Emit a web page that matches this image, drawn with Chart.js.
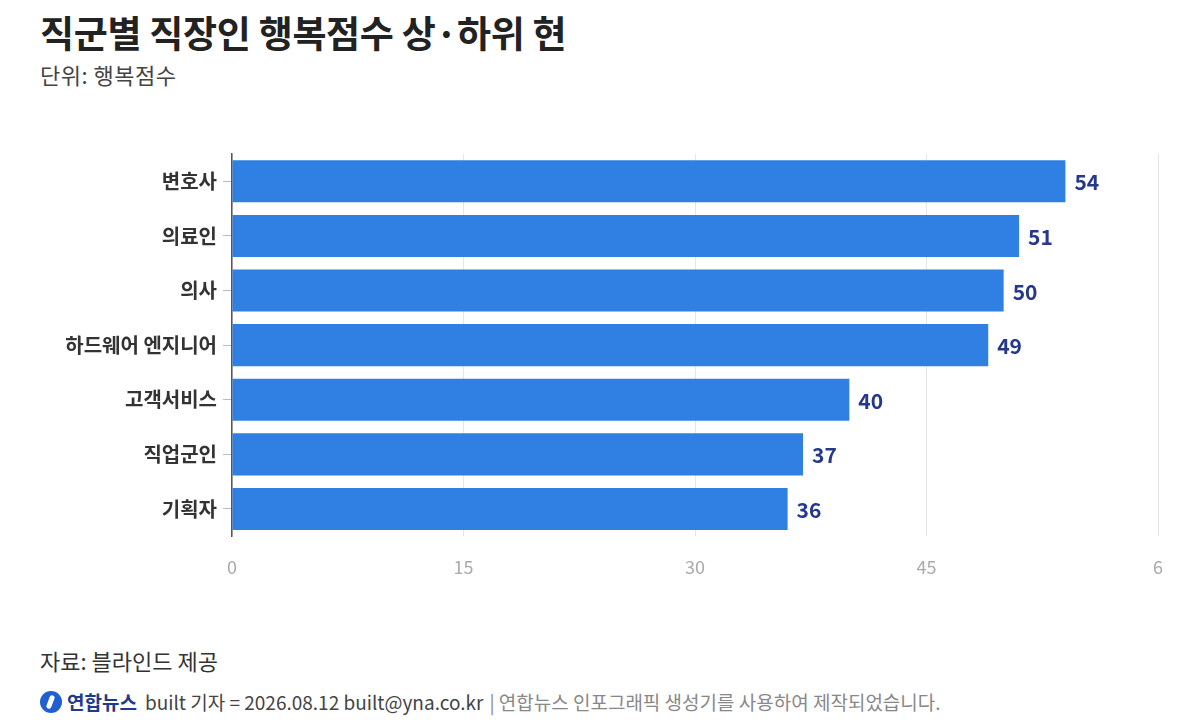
<!DOCTYPE html>
<html>
<head>
<meta charset="utf-8">
<script src="https://cdn.jsdelivr.net/npm/chart.js@4"></script>
<style>
  html, body { margin: 0; padding: 0; background: #fff; }
  body { width: 1200px; height: 720px; position: relative; overflow: hidden;
         font-family: "Noto Sans CJK KR", "Noto Sans", sans-serif; }
  #title { position: absolute; left: 40px; top: 5px; font-size: 37px; font-weight: 700; color: #222; letter-spacing: -0.3px; }
  #unit { position: absolute; left: 40px; top: 58px; font-size: 22px; color: #444; letter-spacing: 0.5px; }
  #wrap { position: absolute; left: 0; top: 130px; width: 1200px; height: 460px; }
  #source { position: absolute; left: 40px; top: 644px; font-size: 22px; color: #333; }
  #credit { position: absolute; left: 40px; top: 688px; font-size: 19px; color: #444; display: flex; align-items: center; white-space: nowrap; }
  #credit .logo { width: 22px; height: 22px; border-radius: 50%; background: #1f5fd0; margin-right: 5px; position: relative; }
  #credit .logo:after { content: ""; position: absolute; left: 8px; top: 4px; width: 5px; height: 14px; border-radius: 3px; background: #fff; transform: rotate(20deg); }
  #credit .brand { font-weight: 700; color: #1e3a8a; margin-right: 8px; }
  #credit .note { color: #888; margin-left: 6px; }
</style>
</head>
<body>
<div id="title">직군별 직장인 행복점수 상·하위 현</div>
<div id="unit">단위: 행복점수</div>
<div id="wrap"><canvas id="bar1"></canvas></div>
<div id="source">자료: 블라인드 제공</div>
<div id="credit"><span class="logo"></span><span class="brand">연합뉴스</span><span>built 기자 = 2026.08.12 built@yna.co.kr</span><span class="note">| 연합뉴스 인포그래픽 생성기를 사용하여 제작되었습니다.</span></div>

<script>
var jobs = ["변호사", "의료인", "의사", "하드웨어 엔지니어", "고객서비스", "직업군인", "기획자"];
var scores = [54, 51, 50, 49, 40, 37, 36];
var tickValues = [0, 15, 30, 45, 60];
var tickLabels = ["0", "15", "30", "45", "6"];

// value labels at the end of each bar
var barValues = {
  id: 'barValues',
  afterDatasetsDraw: function(chart) {
    var ctx = chart.ctx;
    var meta = chart.getDatasetMeta(0);
    ctx.save();
    ctx.font = 'bold 21px "Noto Sans CJK KR"';
    ctx.fillStyle = '#26388a';
    ctx.textAlign = 'left';
    ctx.textBaseline = 'middle';
    meta.data.forEach(function(bar, i) {
      ctx.fillText(chart.data.datasets[0].data[i], bar.x + 9, bar.y + 1);
    });
    ctx.restore();
  }
};

var bar1e = document.getElementById("bar1");
var bar1 = new Chart(bar1e, {
  type: 'bar',
  data: {
    labels: jobs,
    datasets: [{
      label: '행복점수',
      data: scores,
      backgroundColor: '#2f80e2',
      categoryPercentage: 0.77,
      barPercentage: 1
    }]
  },
  options: {
    indexAxis: 'y',
    responsive: true,
    maintainAspectRatio: false,
    animation: false,
    layout: { padding: { top: 24, right: 42, left: 0, bottom: 0 } },
    plugins: {
      legend: { display: false },
      tooltip: { enabled: false }
    },
    scales: {
      x: {
        min: 0,
        max: 60,
        afterBuildTicks: function(scale) {
          scale.ticks = tickValues.map(function(v) { return { value: v }; });
        },
        afterFit: function(scale) { scale.height = 53.7; },
        grid: { color: '#e6e6e6', drawTicks: false },
        border: { display: false },
        ticks: {
          padding: 20,
          color: '#aaa',
          font: { size: 18, family: 'Noto Sans CJK KR' },
          callback: function(v) { return tickLabels[tickValues.indexOf(v)]; }
        }
      },
      y: {
        afterFit: function(scale) { scale.width = 232; },
        grid: { drawOnChartArea: false, offset: false, tickLength: 9, tickColor: '#bbb' },
        border: { display: true, color: '#555', width: 1.5 },
        ticks: {
          padding: 6,
          color: '#333',
          font: { size: 20, weight: '600', family: 'Noto Sans CJK KR' }
        }
      }
    }
  },
  plugins: [barValues]
});
</script>
</body>
</html>
